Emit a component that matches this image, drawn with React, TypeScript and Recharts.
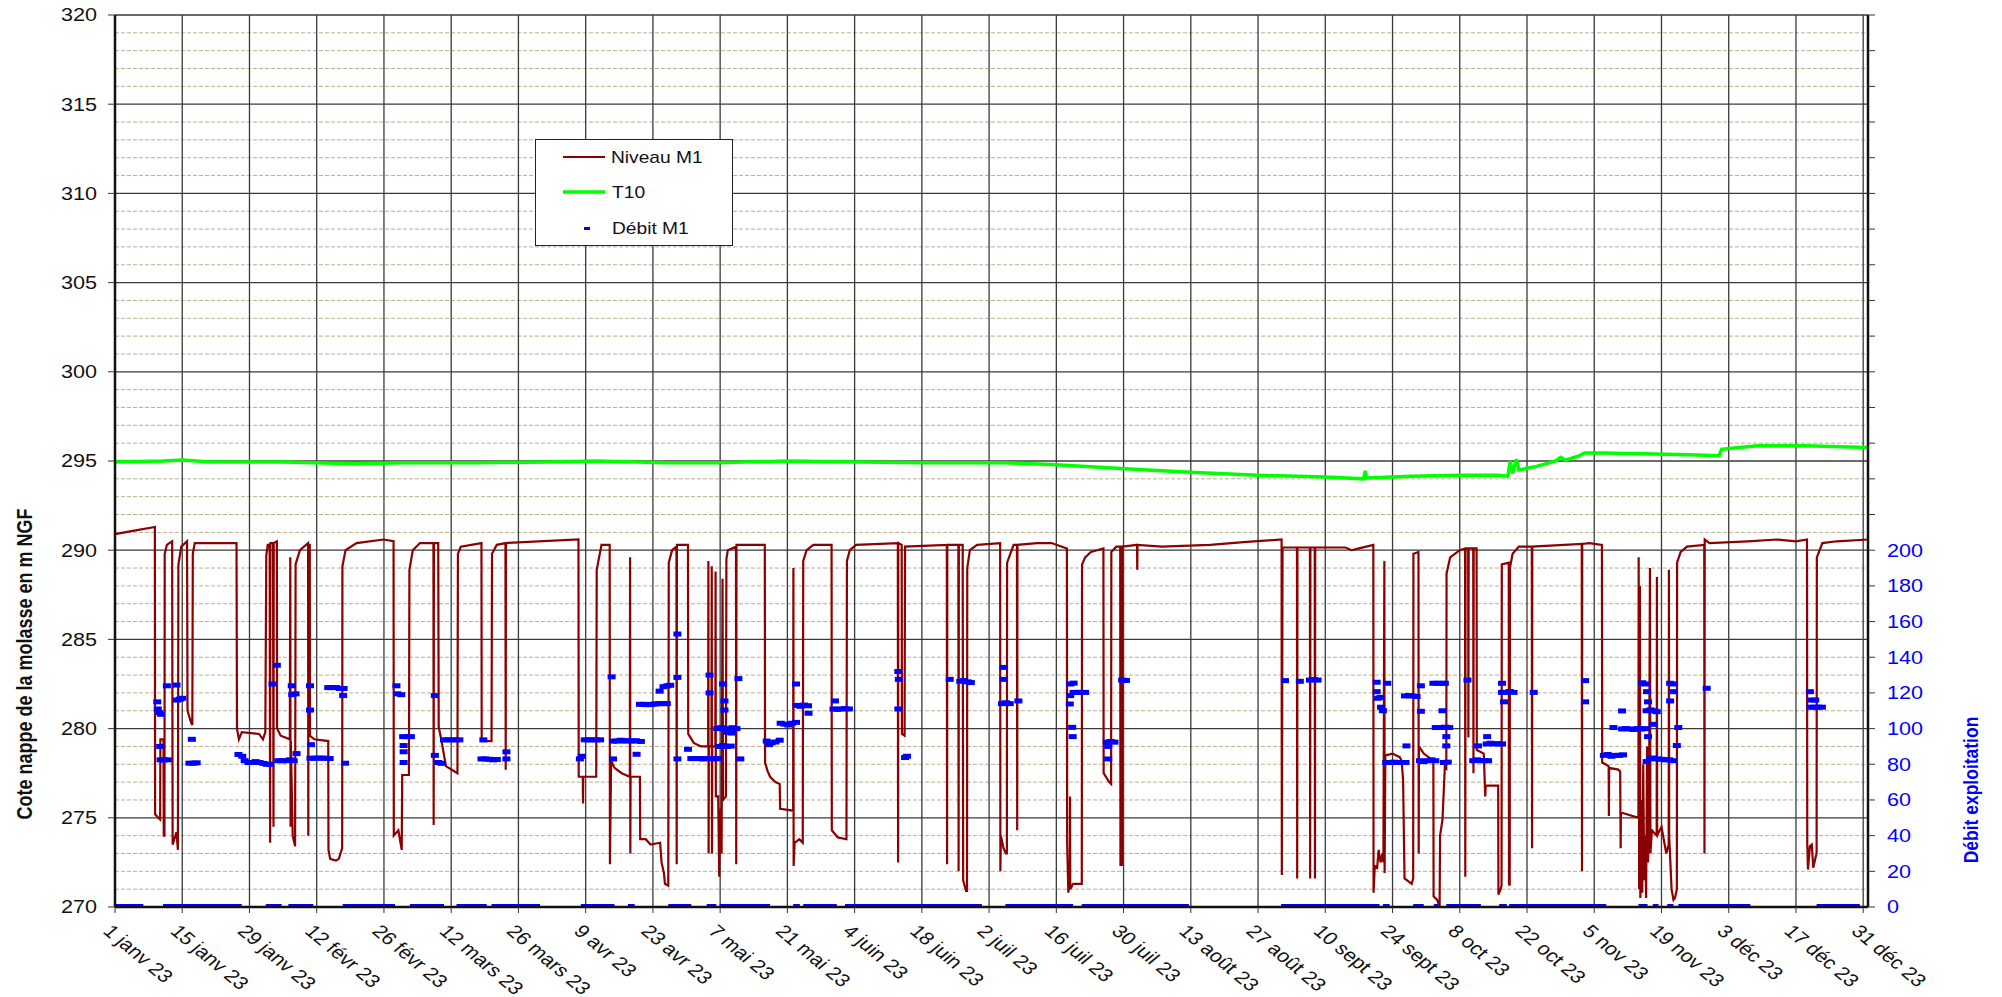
import React from 'react';
import { ComposedChart, Line, Scatter, XAxis, YAxis, CartesianGrid } from 'recharts';

const FONT = '"Liberation Sans", Arial, Helvetica, sans-serif';

// ---- axes ----
const xTickDays = [0, 14, 28, 42, 56, 70, 84, 98, 112, 126, 140, 154, 168, 182, 196, 210, 224, 238, 252, 266, 280, 294, 308, 322, 336, 350, 364];
const xTickLabels = ['1 janv 23', '15 janv 23', '29 janv 23', '12 févr 23', '26 févr 23', '12 mars 23', '26 mars 23', '9 avr 23', '23 avr 23', '7 mai 23', '21 mai 23', '4 juin 23', '18 juin 23', '2 juil 23', '16 juil 23', '30 juil 23', '13 août 23', '27 août 23', '10 sept 23', '24 sept 23', '8 oct 23', '22 oct 23', '5 nov 23', '19 nov 23', '3 déc 23', '17 déc 23', '31 déc 23'];
const leftTicks = [270, 275, 280, 285, 290, 295, 300, 305, 310, 315, 320];
const leftMinor = [271, 272, 273, 274, 276, 277, 278, 279, 281, 282, 283, 284, 286, 287, 288, 289, 291, 292, 293, 294, 296, 297, 298, 299, 301, 302, 303, 304, 306, 307, 308, 309, 311, 312, 313, 314, 316, 317, 318, 319];
const rightTicks = [0, 20, 40, 60, 80, 100, 120, 140, 160, 180, 200, 220, 240, 260, 280, 300, 320, 340, 360, 380, 400, 420, 440, 460, 480, 500];
const rightLabelMax = 200;

const seriesNames = ['Niveau M1', 'T10', 'Débit M1'];
const seriesColors = ['#8b0000', '#00ff00', '#0000ff'];

// ---- Niveau M1 (m NGF) ----
const m1Day = [0, 4, 8.3, 8.35, 9.0, 9.4, 9.45, 10.1, 10.15, 10.3, 10.35, 10.8, 11.9, 12.0, 12.8, 13.1, 13.2, 13.8, 15.0, 15.1, 15.9, 16.1, 16.2, 16.6, 25.3, 25.4, 25.8, 26.4, 30.0, 30.8, 31.3, 31.5, 31.8, 32.2, 32.3, 32.35, 32.9, 33.0, 33.05, 33.7, 33.75, 34.5, 36.4, 36.5, 36.55, 36.6, 37.0, 37.5, 37.6, 38.5, 40.2, 40.25, 40.3, 40.55, 40.6, 41.5, 44.4, 44.45, 44.8, 46.0, 46.6, 47.3, 47.35, 48.0, 50.3, 55.9, 58.0, 58.05, 59.0, 59.7, 59.8, 61.2, 61.3, 62.0, 63.5, 66.3, 66.35, 66.4, 67.3, 67.4, 68.0, 68.9, 71.3, 71.4, 72.0, 76.3, 76.35, 78.4, 78.5, 79.5, 81.3, 81.35, 81.4, 96.5, 96.55, 97.4, 97.45, 97.5, 100.2, 100.3, 101.3, 103.0, 103.05, 103.3, 104.0, 105.5, 107.2, 107.25, 107.3, 107.35, 109.3, 109.35, 110.5, 111.5, 113.5, 113.8, 114.3, 114.5, 115.2, 115.3, 116.0, 116.9, 116.95, 117.0, 119.3, 119.35, 120.5, 122.0, 123.5, 123.55, 123.6, 123.65, 124.2, 124.25, 124.3, 124.35, 125.0, 125.05, 125.1, 125.6, 125.8, 126.0, 126.3, 126.5, 126.6, 127.2, 127.3, 127.6, 129.3, 129.35, 129.4, 135.3, 135.35, 135.9, 136.4, 137.5, 138.4, 138.5, 141.2, 141.25, 141.3, 141.5, 142.5, 143.2, 143.3, 144.0, 145.4, 149.2, 149.25, 150.5, 152.3, 152.4, 153.0, 154.3, 163.0, 163.05, 163.1, 163.8, 163.85, 164.4, 164.5, 173.2, 173.25, 173.3, 175.6, 175.65, 175.7, 176.5, 176.6, 177.2, 177.4, 177.45, 178.0, 179.5, 184.3, 184.35, 184.45, 185.0, 185.5, 185.7, 185.75, 187.1, 187.8, 187.85, 187.9, 192.0, 195.0, 198.2, 198.25, 198.5, 198.8, 198.85, 198.9, 199.5, 201.3, 201.35, 202.0, 203.2, 205.8, 205.85, 207.0, 207.4, 207.45, 208.5, 209.3, 209.35, 209.4, 209.6, 209.65, 209.7, 212.8, 212.85, 212.9, 218, 228, 235, 242.9, 242.95, 243.1, 246.1, 246.15, 246.2, 248.8, 248.85, 248.9, 249.8, 249.85, 249.9, 256.2, 257.5, 259.0, 262.0, 262.05, 262.3, 262.8, 263.1, 263.5, 263.9, 264.1, 264.3, 264.35, 264.5, 266.0, 267.5, 267.9, 268.2, 268.5, 270.0, 270.3, 270.35, 271.4, 271.45, 271.5, 272.5, 274.5, 274.55, 275.3, 275.8, 275.9, 276.4, 276.9, 277.2, 277.25, 278.0, 280.0, 281.1, 281.15, 281.2, 281.75, 281.8, 281.85, 282.8, 282.85, 282.9, 283.5, 283.55, 285.0, 285.2, 285.3, 285.4, 288.0, 288.05, 288.5, 288.7, 288.75, 290.2, 290.25, 290.4, 290.45, 291.0, 292.3, 295.0, 295.05, 295.1, 305.4, 305.45, 305.5, 307.0, 309.6, 309.65, 311.0, 311.05, 311.1, 313.0, 313.4, 313.45, 313.5, 313.55, 317.2, 317.25, 317.35, 317.5, 317.6, 317.8, 318.0, 318.2, 318.4, 318.6, 318.8, 319.0, 319.2, 319.4, 319.6, 319.7, 320.0, 321.0, 321.05, 321.1, 322.0, 323.0, 323.5, 323.55, 323.6, 324.1, 324.5, 324.8, 325.2, 325.25, 326.0, 327.3, 330.9, 330.95, 331.0, 332.0, 340.0, 346.0, 350.0, 352.3, 352.35, 352.5, 352.9, 353.3, 353.6, 354.1, 354.3, 354.35, 355.5, 358.5, 365];
const m1Level = [290.9, 291.1, 291.3, 275.2, 275.0, 274.9, 279.4, 279.4, 274.0, 274.0, 289.8, 290.3, 290.5, 273.5, 274.2, 273.2, 289.2, 290.2, 290.5, 281.0, 280.3, 280.2, 289.8, 290.4, 290.4, 280.0, 279.4, 279.8, 279.7, 279.4, 279.8, 289.7, 290.3, 290.3, 273.6, 290.4, 290.4, 274.5, 290.4, 290.5, 280.0, 279.6, 279.4, 289.6, 274.5, 279.3, 274.0, 273.4, 289.2, 290.0, 290.4, 274.0, 290.3, 290.3, 279.6, 279.4, 279.3, 273.2, 272.7, 272.6, 272.7, 273.3, 289.1, 290.0, 290.4, 290.6, 290.5, 274.0, 274.3, 273.2, 277.4, 277.4, 288.9, 290.0, 290.4, 290.4, 274.6, 290.4, 290.4, 280.1, 279.3, 277.9, 277.5, 289.8, 290.2, 290.4, 279.3, 279.3, 289.8, 290.3, 290.4, 277.7, 290.4, 290.6, 277.3, 277.3, 275.8, 277.3, 277.3, 288.9, 290.3, 290.3, 272.4, 278.2, 277.8, 277.5, 277.3, 289.6, 273.0, 277.3, 277.3, 273.8, 273.8, 273.5, 273.6, 272.5, 271.9, 271.3, 271.2, 289.3, 290.0, 290.2, 272.4, 290.3, 290.3, 279.7, 279.2, 279.0, 279.0, 289.4, 273.0, 279.0, 279.0, 289.1, 273.0, 279.0, 279.0, 288.8, 276.2, 276.2, 271.7, 275.5, 273.0, 288.4, 276.0, 276.2, 289.5, 290.0, 290.2, 272.4, 290.3, 290.3, 278.1, 277.6, 277.3, 277.0, 276.9, 275.5, 275.4, 289.0, 272.3, 273.6, 273.8, 273.6, 289.4, 290.0, 290.3, 290.3, 274.3, 273.9, 273.8, 289.4, 290.0, 290.3, 290.4, 272.5, 290.4, 290.3, 279.7, 279.6, 290.2, 290.3, 272.4, 290.3, 290.3, 272.0, 290.3, 290.3, 271.5, 270.9, 270.9, 289.0, 290.0, 290.3, 290.4, 272.0, 274.0, 273.3, 273.0, 273.0, 289.3, 290.3, 290.3, 274.3, 290.3, 290.4, 290.4, 290.1, 273.6, 270.8, 271.5, 276.2, 271.0, 271.3, 271.3, 289.2, 289.6, 289.9, 290.1, 277.5, 277.0, 276.9, 289.9, 290.2, 290.2, 272.3, 290.2, 290.2, 272.3, 290.2, 290.3, 288.9, 290.3, 290.2, 290.3, 290.45, 290.6, 271.8, 290.15, 290.15, 271.6, 290.15, 290.15, 271.6, 290.15, 290.15, 271.6, 290.15, 290.15, 290.0, 290.1, 290.3, 270.8, 272.3, 272.2, 273.2, 272.5, 273.0, 272.5, 289.4, 271.9, 278.5, 278.6, 278.4, 278.2, 277.1, 271.6, 271.3, 271.6, 289.8, 289.9, 273.0, 279.0, 278.6, 278.2, 270.6, 270.4, 270.0, 274.0, 274.9, 277.9, 277.8, 288.7, 289.6, 290.0, 290.1, 271.7, 290.1, 290.1, 279.5, 290.1, 290.1, 277.5, 290.1, 290.1, 278.8, 278.6, 277.0, 276.2, 276.8, 276.8, 270.7, 271.0, 271.2, 289.2, 289.3, 271.3, 271.2, 289.0, 289.8, 290.2, 290.2, 273.3, 290.2, 290.35, 272.0, 290.35, 290.4, 290.3, 278.1, 277.9, 275.1, 277.8, 277.7, 277.6, 275.3, 273.3, 275.3, 275.0, 289.6, 271.0, 288.0, 270.5, 276.0, 270.8, 278.0, 271.5, 274.0, 270.5, 279.0, 272.5, 274.5, 289.0, 273.0, 274.3, 274.0, 288.5, 274.0, 274.5, 273.0, 273.5, 288.9, 274.0, 271.0, 270.4, 270.5, 271.0, 289.3, 289.9, 290.2, 290.3, 273.0, 290.6, 290.4, 290.5, 290.6, 290.5, 290.6, 273.6, 272.1, 273.4, 273.5, 272.2, 272.8, 273.0, 289.6, 290.4, 290.5, 290.6];

// ---- T10 (m NGF) ----
const t10Day = [0, 10, 14, 20, 35, 50, 60, 75, 90, 100, 115, 125, 140, 155, 170, 185, 195, 205, 215, 225, 238, 252, 260, 260.3, 260.6, 270, 280, 288, 290, 290.5, 291, 291.8, 292.3, 296, 300, 301, 302, 305, 306, 310, 318, 328, 334, 334.5, 336, 342, 352, 365];
const t10Level = [294.95, 295.0, 295.05, 294.95, 294.95, 294.85, 294.9, 294.9, 294.95, 295.0, 294.9, 294.9, 295.0, 294.95, 294.9, 294.9, 294.8, 294.65, 294.5, 294.35, 294.2, 294.1, 294.0, 294.45, 294.05, 294.15, 294.2, 294.2, 294.15, 295.0, 294.3, 295.1, 294.5, 294.7, 295.0, 295.2, 295.05, 295.3, 295.45, 295.45, 295.4, 295.35, 295.3, 295.65, 295.7, 295.85, 295.85, 295.75];

// ---- Débit M1 (right axis) ----
const debitDay = [8.8, 8.9, 9.2, 9.6, 9.4, 9.5, 10.2, 11.0, 10.8, 12.8, 12.9, 13.5, 14.0, 16.0, 15.5, 16.3, 17.0, 25.7, 26.5, 27.0, 27.8, 28.5, 29.3, 30.1, 30.9, 31.6, 32.3, 32.8, 33.7, 34.0, 34.8, 35.6, 36.4, 37.2, 36.8, 36.9, 37.6, 37.8, 40.6, 40.6, 40.7, 41.5, 42.3, 43.1, 43.9, 44.7, 40.8, 44.4, 45.2, 46.0, 46.8, 47.6, 47.5, 47.9, 58.6, 58.8, 59.6, 60.0, 60.8, 61.6, 60.1, 60.1, 60.1, 66.6, 66.6, 67.3, 68.0, 68.5, 69.3, 70.1, 70.9, 71.7, 76.7, 76.3, 77.1, 77.9, 78.7, 79.5, 81.5, 81.5, 96.8, 97.2, 97.8, 98.6, 99.4, 100.2, 101.0, 103.4, 103.7, 104.5, 105.3, 106.1, 106.9, 107.7, 108.5, 109.5, 103.7, 108.6, 109.3, 110.1, 110.9, 111.7, 112.5, 113.3, 114.1, 114.9, 113.4, 114.2, 115.0, 115.6, 117.1, 117.1, 117.1, 119.3, 120.0, 120.8, 121.6, 122.4, 123.2, 124.0, 124.8, 125.6, 123.8, 123.8, 126.6, 126.9, 126.9, 125.4, 126.2, 127.0, 127.8, 128.6, 129.4, 125.8, 126.6, 127.4, 128.2, 127.5, 128.4, 129.8, 130.2, 135.7, 136.2, 136.7, 137.5, 138.4, 138.6, 139.4, 140.2, 141.0, 141.8, 141.8, 141.9, 142.7, 143.5, 144.3, 144.4, 149.9, 149.6, 150.4, 151.2, 152.0, 152.8, 163.1, 163.2, 163.1, 164.5, 164.9, 173.8, 176.0, 176.8, 177.6, 178.2, 185.0, 185.0, 184.7, 185.5, 186.3, 188.1, 198.9, 199.6, 198.9, 199.6, 200.4, 201.2, 202.0, 198.8, 199.3, 199.4, 206.5, 207.3, 208.1, 206.8, 206.8, 209.7, 210.5, 243.6, 246.7, 248.8, 249.6, 250.4, 262.7, 262.7, 262.9, 263.5, 263.6, 264.0, 264.9, 264.7, 265.5, 266.3, 267.1, 267.9, 268.7, 268.9, 268.6, 269.4, 270.2, 271.0, 271.9, 271.9, 271.7, 272.5, 273.3, 274.1, 274.9, 274.5, 275.3, 276.1, 276.9, 275.0, 276.2, 277.0, 277.8, 276.4, 277.2, 277.2, 276.7, 277.5, 281.6, 282.8, 283.6, 284.4, 285.2, 285.9, 283.8, 285.6, 286.4, 287.2, 288.0, 288.8, 285.7, 288.8, 288.8, 289.6, 290.4, 291.2, 289.2, 295.4, 306.1, 306.1, 310.0, 310.8, 311.6, 312.4, 313.2, 314.0, 312.0, 313.8, 313.8, 314.6, 315.4, 316.2, 317.0, 317.8, 318.6, 318.0, 318.6, 319.0, 319.2, 319.2, 318.9, 318.9, 319.7, 320.5, 321.0, 320.3, 319.6, 320.4, 321.2, 322.0, 322.8, 323.6, 324.4, 323.8, 324.6, 324.5, 323.8, 325.5, 325.2, 331.4, 352.9, 353.2, 354.0, 353.0, 353.8, 354.6, 355.4];
const debitFlow = [115, 111, 109, 108, 90, 82.5, 82.5, 82.5, 124, 124.4, 116, 116.5, 117, 94, 80.6, 80.6, 80.8, 85.5, 84.5, 82, 81, 81, 81.5, 81, 80.5, 80, 80, 125, 135.5, 82, 82, 82, 82.5, 82, 124, 119, 119.5, 86, 124, 110.4, 83.4, 83.4, 83.5, 83.4, 83.4, 83.2, 91, 123, 123, 123, 122.5, 122.5, 118.5, 80.6, 124, 119.5, 119, 95.5, 95.5, 95.5, 90.5, 87, 81, 118.5, 85, 81, 80.5, 93.7, 93.7, 93.7, 93.7, 93.7, 93.7, 83, 83, 82.8, 82.5, 82.7, 87, 83, 83, 84.5, 93.7, 93.7, 93.7, 93.7, 93.7, 129, 93, 93, 93.5, 93, 93.3, 93, 93.2, 92.8, 83, 85.6, 113.6, 113.6, 113.4, 113.6, 113.8, 114, 114, 114, 121, 123.5, 124, 124.3, 153, 128.7, 83, 88.4, 83.2, 83.2, 83.2, 83, 83.2, 83.2, 83, 83.2, 130, 120, 125, 115.5, 110.4, 100, 100.5, 100, 100, 100.5, 100, 90, 90.5, 90, 90.2, 98, 97.5, 128, 83, 93, 91, 92, 92.5, 93.5, 103, 102.5, 102, 103, 103.5, 125, 113, 112.5, 113.2, 112.8, 108.6, 115.5, 111, 110.8, 111, 111.2, 111, 132, 127.6, 111, 83.8, 84.5, 127.6, 126.5, 127, 126.2, 125.8, 134.3, 127.6, 114, 114.5, 114, 115.5, 125, 125.5, 118.5, 120.3, 120.3, 120.3, 120.3, 113.8, 100.7, 95.5, 92.4, 92.8, 92.4, 90, 83, 127.2, 127, 126.9, 126.5, 127.2, 127.5, 127.2, 126, 120.7, 117, 117.5, 112, 110, 125.4, 81, 81, 81.2, 81, 81, 81, 90.3, 118.3, 118.5, 118.3, 118, 124, 109.7, 82, 81.5, 82, 82.5, 82, 125.4, 125.4, 125.4, 125.4, 100.6, 100.6, 100.8, 100.6, 110, 95.5, 90.3, 81, 81.2, 127.2, 82, 82.5, 82, 82, 82, 90.3, 91.4, 91.8, 91.4, 91.5, 91.4, 95.5, 125.4, 120.3, 120.3, 120.8, 120.3, 115, 120.3, 126.9, 115, 85, 85.5, 84.5, 85, 85, 85.3, 100.6, 109.9, 99.8, 100, 99.8, 99.5, 100, 99.8, 100, 125.7, 125, 120.7, 115, 95.5, 81.5, 110, 110.5, 110, 109.5, 102.4, 83, 83.5, 83, 82.8, 82.5, 82.5, 82, 125.4, 125, 120.7, 115.5, 100.6, 90.5, 122.6, 120.7, 116, 116, 112, 112, 112, 112];

// periods with zero flow (Débit M1 = 0)
const zeroStart = [0, 10, 31.4, 36.1, 47.4, 61.4, 71.1, 78.4, 97, 106.8, 115.2, 123.2, 125.9, 141.2, 143.3, 152, 185.4, 201.3, 242.8, 264, 270.3, 274.6, 277.2, 288.2, 290.3, 317.2, 320.2, 323.2, 325.5, 354.3];
const zeroEnd = [5.9, 26.4, 34.7, 41.3, 58.3, 68.5, 77.4, 88.5, 104, 108.2, 120, 125.2, 136.4, 142.6, 150.3, 180.5, 199.5, 223.6, 263.3, 265.4, 272.5, 275.8, 284.4, 289.8, 310.5, 319.1, 321.4, 324.5, 340.5, 363.3];

// ---- tables for the library ----
const m1Data = m1Day.map((d, i) => ({ day: d, m1: m1Level[i] }));
const t10Data = t10Day.map((d, i) => ({ day: d, t10: t10Level[i] }));
const debitData = debitDay.map((d, i) => ({ day: d, q: debitFlow[i] }));
const zeroData: { day: number; q: number | null }[] = [];
zeroStart.forEach((s, i) => {
  zeroData.push({ day: s, q: 0 });
  zeroData.push({ day: zeroEnd[i], q: 0 });
  zeroData.push({ day: zeroEnd[i], q: null });
});

const SX = 1.2; // horizontal stretch of the reference text

const XTick = (props: any) => {
  const { x, y, payload } = props;
  const idx = xTickDays.indexOf(payload.value);
  return (
    <text transform={`translate(${x - 2},${y}) scale(${SX},1) rotate(45)`} x={0} y={0} dy="0.72em"
      textAnchor="start" fontSize={18} fontFamily={FONT} fill="#111">{xTickLabels[idx]}</text>
  );
};

const LeftTick = (props: any) => {
  const { x, y, payload } = props;
  return (
    <text transform={`translate(${x},${y}) scale(${SX},1)`} x={0} y={0} dy="0.36em"
      textAnchor="end" fontSize={18} fontFamily={FONT} fill="#111">{payload.value}</text>
  );
};

const RightTick = (props: any) => {
  const { x, y, payload } = props;
  if (payload.value > rightLabelMax) return <g />;
  return (
    <text transform={`translate(${x},${y}) scale(${SX},1)`} x={0} y={0} dy="0.36em"
      textAnchor="start" fontSize={18} fontFamily={FONT} fill="#0000ff">{payload.value}</text>
  );
};

const LeftTitle = () => (
  <text transform={`translate(16,664) scale(${SX},1) rotate(-90)`} x={0} y={0} dy="0.36em" textAnchor="middle"
    fontSize={18} fontWeight="bold" fontFamily={FONT} fill="#111">Cote nappe de la molasse en m NGF</text>
);

const RightTitle = () => (
  <text transform={`translate(1962,790) scale(${SX},1) rotate(-90)`} x={0} y={0} dy="0.36em" textAnchor="middle"
    fontSize={17.5} fontWeight="bold" fontFamily={FONT} fill="#0000ff">Débit exploitation</text>
);

const DashShape = (props: any) => {
  const { cx, cy } = props;
  if (cx == null || cy == null) return <g />;
  return <rect x={cx - 4} y={cy - 2.5} width={8} height={5} fill="#0000ff" />;
};

const LegendBox = () => (
  <div style={{ position: 'absolute', left: 527, top: 139, width: 198, height: 107 }}>
    <svg width={198} height={107} style={{ display: 'block' }}>
      <rect x={0.5} y={0.5} width={197} height={106} fill="#fff" stroke="#222" strokeWidth={1} />
      <line x1={28} x2={70} y1={18} y2={18} stroke={seriesColors[0]} strokeWidth={2} />
      <line x1={28} x2={70} y1={53} y2={53} stroke={seriesColors[1]} strokeWidth={3.5} />
      <rect x={49} y={88} width={6} height={3} fill={seriesColors[2]} />
      {seriesNames.map((n, i) => (
        <text key={n} transform={`translate(${i === 0 ? 76 : 77},${18 + i * 35.5}) scale(${SX},1)`} x={0} y={0} dy="0.36em"
          fontSize={16} fontFamily={FONT} fill="#111">{n}</text>
      ))}
    </svg>
  </div>
);

export default function App() {
  return (
    <div style={{ position: 'relative', width: 1986, height: 997, marginTop: -8, fontFamily: FONT }}>
      <ComposedChart width={1986} height={997} margin={{ top: 15, right: 56, left: 47, bottom: 30 }} style={{ overflow: 'visible' }}>
        <CartesianGrid horizontalValues={leftMinor} vertical={false} stroke="#b8b08c" strokeDasharray="4 2" strokeWidth={1} />
        <CartesianGrid horizontalValues={leftTicks} verticalValues={xTickDays} stroke="#3a3a3a" strokeWidth={1.3} />
        <XAxis type="number" dataKey="day" domain={[0, 365]} ticks={xTickDays} interval={0} allowDataOverflow
          height={60} tickSize={6} tickMargin={10} tick={<XTick />} axisLine={{ stroke: '#111', strokeWidth: 2.5 }}
          tickLine={{ stroke: '#333' }} />
        <YAxis domain={[270, 320]} ticks={leftTicks} interval={0} allowDataOverflow width={60} tickSize={7} tickMargin={11}
          tick={<LeftTick />} axisLine={{ stroke: '#111', strokeWidth: 2.5 }} tickLine={{ stroke: '#333' }} label={<LeftTitle />} />
        <YAxis yAxisId="right" orientation="right" domain={[0, 500]} ticks={rightTicks} interval={0} allowDataOverflow
          width={70} tickSize={7} tickMargin={12} tick={<RightTick />} axisLine={{ stroke: '#111', strokeWidth: 2.5 }}
          tickLine={{ stroke: '#333' }} label={<RightTitle />} />
        <Line data={t10Data} dataKey="t10" name={seriesNames[1]} type="linear" stroke={seriesColors[1]} strokeWidth={3.5}
          dot={false} isAnimationActive={false} />
        <Line data={m1Data} dataKey="m1" name={seriesNames[0]} type="linear" stroke={seriesColors[0]} strokeWidth={2.2}
          dot={false} isAnimationActive={false} />
        <Line data={zeroData} dataKey="q" yAxisId="right" type="linear" stroke={seriesColors[2]} strokeWidth={6}
          dot={false} connectNulls={false} isAnimationActive={false} legendType="none" />
        <Scatter data={debitData} dataKey="q" yAxisId="right" name={seriesNames[2]} fill={seriesColors[2]}
          shape={<DashShape />} isAnimationActive={false} />
      </ComposedChart>
      <LegendBox />
    </div>
  );
}
